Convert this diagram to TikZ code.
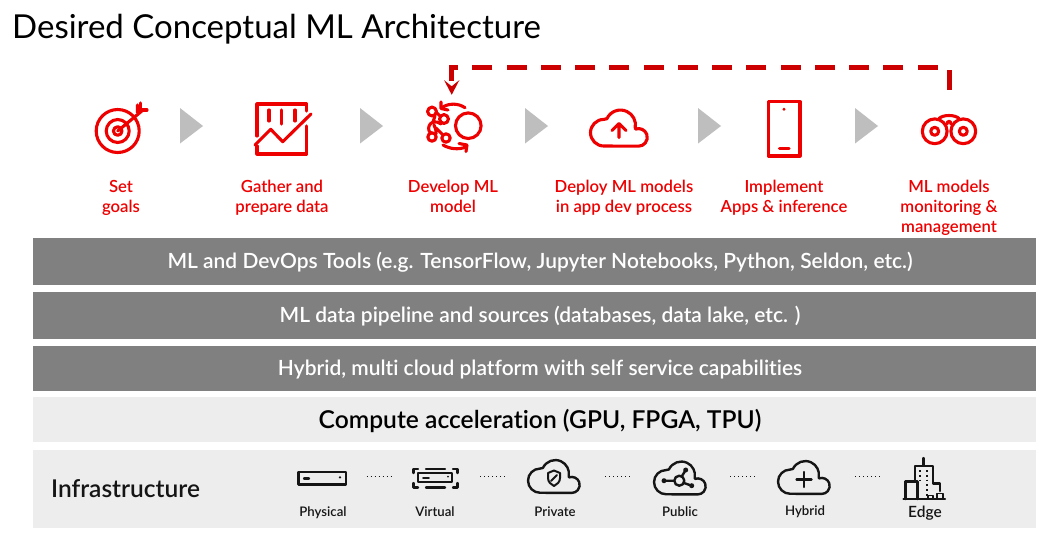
\documentclass[tikz,border=0pt]{standalone}
\usepackage{fontspec}
\setmainfont{Lato}[Ligatures=NoCommon,BoldFont={Lato Semibold}]
\usetikzlibrary{arrows.meta}
\definecolor{rhred}{HTML}{EE0000}
\definecolor{dashred}{HTML}{CC0000}
\definecolor{midgray}{HTML}{808080}
\definecolor{lightbar}{HTML}{EDEDED}
\definecolor{triang}{HTML}{BEBEBE}
\definecolor{inkblack}{HTML}{151515}
\tikzset{
  redicon/.style={draw=rhred,line width=3.1pt,line cap=round,line join=round},
  blackicon/.style={draw=inkblack,line width=2.4pt,line cap=round,line join=round},
  darkbar/.style={fill=midgray,draw=none},
  palebar/.style={fill=lightbar,draw=none},
  bartext/.style={text=white,font=\fontsize{20.95}{23}\selectfont\bfseries},
  steptext/.style={text=rhred,align=center,font=\fontsize{16.7}{20}\selectfont\bfseries},
  infratext/.style={text=inkblack,font=\fontsize{13.2}{15}\selectfont\bfseries},
  flowtri/.style={fill=triang,draw=none},
  anchorbox/.style={inner sep=0pt,minimum width=0pt,draw=none},
  linkdots/.style={draw=inkblack,line width=1pt,dash pattern=on 1pt off 3pt}
}
\newcommand{\cloudpath}{(13.3,36) arc[start angle=90,end angle=270,radius=13.3pt] -- (16.4,8.7) arc[start angle=205,end angle=370,radius=15pt] -- (45,19.1) arc[start angle=250,end angle=450,radius=8.8pt] -- cycle}
\newcommand{\flowtriangle}[1]{\fill[flowtri] (#1,108) -- (#1+23,126) -- (#1,143.5) -- cycle;}
\begin{document}
\begin{tikzpicture}[x=1pt,y=1pt,yscale=-1]
\useasboundingbox (0,0) rectangle (1054,542);
\fill[white] (0,0) rectangle (1054,542);
% title
\node[anchor=west,inner sep=0pt,font=\fontsize{33}{36}\selectfont] (title) at (12,29) {Desired Conceptual ML Architecture};
% bars
\fill[darkbar] (33,238) rectangle (1036,285);
\fill[darkbar] (33,292) rectangle (1036,339);
\fill[darkbar] (33,346) rectangle (1036,391);
\fill[palebar] (33,397) rectangle (1036,442);
\fill[palebar] (33,450) rectangle (1036,528);
\node[bartext] (tools) at (540,262.5) {ML and DevOps Tools (e.g. TensorFlow, Jupyter Notebooks, Python, Seldon, etc.)};
\node[bartext] (pipeline) at (540,316.5) {ML data pipeline and sources (databases, data lake, etc. )};
\node[bartext] (hybridplat) at (540,369.5) {Hybrid, multi cloud platform with self service capabilities};
\node[text=black,font=\fontsize{24.6}{26}\selectfont\bfseries] (accel) at (540,421) {Compute acceleration (GPU, FPGA, TPU)};
\node[anchor=west,inner sep=0pt,text=inkblack,font=\fontsize{24.5}{28}\selectfont\bfseries] (infra) at (51,489) {Infrastructure};
% triangles
\flowtriangle{180}
\flowtriangle{360}
\flowtriangle{525}
\flowtriangle{698}
\flowtriangle{855}
% step labels
\node[steptext] (l1) at (121,197.5) {Set\\goals};
\node[steptext] (l2) at (282,197.5) {Gather and\\prepare data};
\node[steptext] (l3) at (453,196.5) {Develop ML\\model};
\node[steptext] (l4) at (624,197.5) {Deploy ML models\\in app dev process};
\node[steptext] (l5) at (784,197.5) {Implement\\Apps \& inference};
\node[steptext] (l6) at (949,207.5) {ML models\\monitoring \&\\management};
% target
\draw[redicon] (117.7,131) circle[radius=21.5pt];
\draw[redicon] (117.7,131) circle[radius=11.5pt];
\draw[redicon] (117.7,131) circle[radius=4.3pt];
\draw[redicon] (117.7,131) -- (143,110);
\draw[redicon] (137.5,105) -- (137.5,112.5) (146.5,110) -- (139,110.5);
\draw[redicon] (140.5,103) -- (140.5,109.5) (147,110) -- (141,110);
% chart
\draw[redicon] (306.7,126) -- (306.7,154) -- (257,154) -- (257,146);
\draw[redicon] (257,136) -- (257,104) -- (306.7,104) -- (306.7,111);
\draw[redicon] (255,145) -- (270.7,129.3) -- (282.7,141.7) -- (311,114);
\draw[redicon] (269,110) -- (269,121) (281.7,110) -- (281.7,124) (295,110) -- (295,121);
% develop
\draw[redicon] (468.3,125.7) circle[radius=12.8pt];
\draw[redicon] (432,111.5) circle[radius=4.4pt];
\draw[redicon] (432,137) circle[radius=4.2pt];
\draw[redicon] (444,119) circle[radius=4.4pt];
\draw[redicon] (446,138) circle[radius=4.2pt];
\draw[redicon] (437,113) -- (440,116) (429,131) .. controls (428,127) and (429,124) .. (433,122) .. controls (437,122) and (439,122) .. (441,124)
  (433,122) -- (435,116) (429,131) -- (431,133) (436,128) -- (442,134) (434,125) .. controls (436,128) and (436,131) .. (436,134);
\draw[redicon] (465,107.7) .. controls (458,103) and (449,103) .. (442,107.5);
\draw[redicon] (441,102) -- (441,108.5) -- (448,110);
\draw[redicon] (443,145) .. controls (450,149) and (458,150) .. (466,147);
\draw[redicon] (459,143.5) -- (467,145) -- (466,151.5);
% cloud upload
\begin{scope}[shift={(590.5,110)}]
\draw[redicon] \cloudpath;
\end{scope}
\draw[redicon] (619,137.5) -- (619,124) (612,130.5) -- (619,123.5) -- (626,130.5);
% phone
\draw[redicon] (768.3,101.7) rectangle (800,156);
\fill[rhred] (784,109.3) circle[radius=1.6pt];
\draw[redicon] (779.5,148.3) -- (789,148.3);
% binoculars
\draw[redicon] (934.7,131.3) circle[radius=12.4pt];
\draw[redicon] (934.7,131.3) circle[radius=4pt];
\draw[redicon] (963.3,131.3) circle[radius=12.4pt];
\draw[redicon] (963.3,131.3) circle[radius=4pt];
\draw[redicon] (939,118.5) .. controls (943,114.5) and (955,114.5) .. (959,118.5);
\draw[redicon] (947,124) .. controls (947,120.5) and (951,120.5) .. (951,124);
% feedback connector
\node[anchorbox,minimum height=40pt] (monitor) at (949,110) {};
\node[anchorbox,minimum height=60pt] (develop) at (451.7,125) {};
\coordinate (rail) at (700,67);
\draw[dashred,line width=5pt,dash pattern=on 20pt off 14.25pt,-{Stealth[length=14.5pt,width=15pt,inset=6pt]}]
  (monitor.north) -- (monitor.north |- rail) -- (develop.north |- rail) -- (develop.north);
% infrastructure icons
\draw[blackicon] (298.5,471.7) rectangle (346,484.3);
\draw[blackicon] (304,478.5) -- (309,478.5);
\fill[inkblack] (340,477.3) circle[radius=1.3pt];
\draw[linkdots] (366.7,476.7) -- (392,476.7);
\draw[blackicon,line width=1.8pt] (418.3,473.3) rectangle (452.3,482.3);
\draw[blackicon,line width=1.8pt] (423,478) -- (429,478);
\fill[inkblack] (448,476.5) circle[radius=1pt];
\draw[blackicon] (418,469) -- (413.5,469) -- (413.5,473) (453,469) -- (457.5,469) -- (457.5,473)
  (413.5,483) -- (413.5,487.3) -- (418,487.3) (457.5,483) -- (457.5,487.3) -- (453,487.3)
  (426,469) -- (445,469) (426,487.3) -- (445,487.3);
\draw[linkdots] (480,476.7) -- (505,476.7);
\begin{scope}[shift={(528,460)},scale=.91]
\draw[blackicon] \cloudpath;
\end{scope}
\draw[blackicon,line width=2pt] (554,470.5) -- (560,473) -- (560,478) .. controls (560,482) and (557,484.5) .. (554,486) .. controls (551,484.5) and (548,482) .. (548,478) -- (548,473) -- cycle;
\draw[blackicon,line width=1.8pt] (551,481) -- (557,475);
\draw[linkdots] (605,476.7) -- (630,476.7);
\begin{scope}[shift={(654,461.5)},scale=.91]
\draw[blackicon] \cloudpath;
\end{scope}
\draw[blackicon] (679.3,480.7) circle[radius=5pt];
\draw[blackicon] (674,480.7) -- (664,480.7) (682,476) -- (685.7,470) (684,483) -- (691.7,485.7);
\fill[inkblack] (664,480.7) circle[radius=2.5pt] (685.7,470) circle[radius=2.5pt] (691.7,485.7) circle[radius=2.5pt];
\draw[linkdots] (730,476.7) -- (755,476.7);
\begin{scope}[shift={(778,461)},scale=.91]
\draw[blackicon] \cloudpath;
\end{scope}
\draw[blackicon] (804,472) -- (804,487) (796.5,479.5) -- (811.5,479.5);
\draw[linkdots] (855,476.7) -- (880,476.7);
% edge building
\draw[blackicon] (903.5,499) -- (945,499);
\draw[blackicon] (905.5,499) -- (905.5,481.5) -- (917.5,481.5) -- (917.5,499);
\draw[blackicon] (915,481) -- (915,465.7) -- (932.7,465.7) -- (932.7,483.3) -- (940,483.3) -- (940,491);
\draw[blackicon] (923.3,458) -- (923.3,465.7);
\draw[draw=inkblack,line width=1.8pt,dash pattern=on 1.8pt off 3pt] (920,470) -- (920,481) (926.7,470) -- (926.7,496);
\draw[blackicon,line width=1.8pt] (928,499) -- (928,495.5) -- (933,495.5) -- (933,499) (937,499) -- (937,493.5) -- (943,493.5) -- (943,499);
% infra labels
\node[infratext] (physical) at (323,513) {Physical};
\node[infratext] (virtual) at (435,512) {Virtual};
\node[infratext] (private) at (555,512) {Private};
\node[infratext] (public) at (680,512) {Public};
\node[infratext] (hybrid) at (805,512) {Hybrid};
\node[infratext,font=\fontsize{15.5}{17}\selectfont\bfseries] (edge) at (925,513) {Edge};
\end{tikzpicture}
\end{document}
